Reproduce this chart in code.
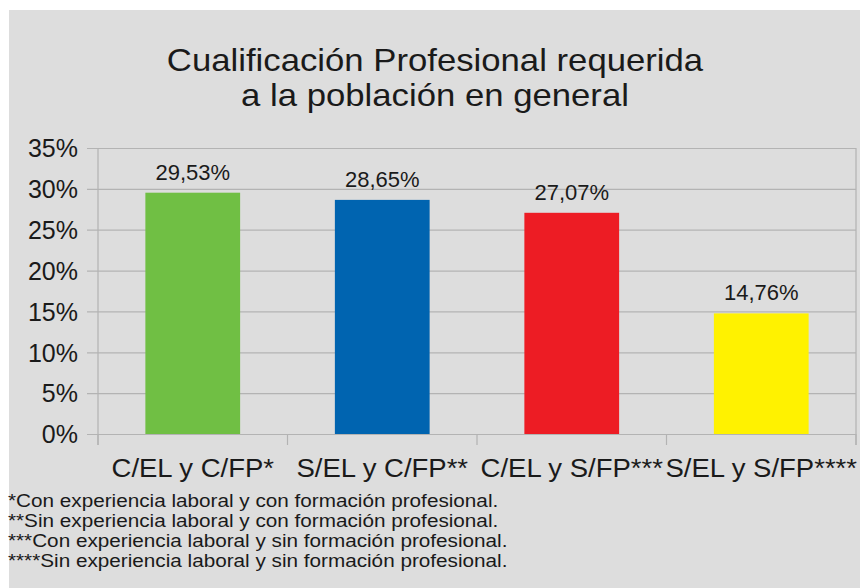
<!DOCTYPE html>
<html>
<head>
<meta charset="utf-8">
<script src="https://cdn.jsdelivr.net/npm/d3@7"></script>
<style>
  body { margin: 0; background: #fff; }
  text { font-family: "Liberation Sans", Arial, sans-serif; fill: #1a1a1a; }
</style>
</head>
<body>
<div class="canvas"></div>
<script>
var categories = ["C/EL y C/FP*", "S/EL y C/FP**", "C/EL y S/FP***", "S/EL y S/FP****"];
var values = [29.53, 28.65, 27.07, 14.76];
var valueLabels = ["29,53%", "28,65%", "27,07%", "14,76%"];
var colors = ["#70bf44", "#0064b0", "#ed1c24", "#fff200"];
var yTicks = [0, 5, 10, 15, 20, 25, 30, 35];
var titleLines = ["Cualificación Profesional requerida", "a la población en general"];
var footnotes = [
  "*Con experiencia laboral y con formación profesional.",
  "**Sin experiencia laboral y con formación profesional.",
  "***Con experiencia laboral y sin formación profesional.",
  "****Sin experiencia laboral y sin formación profesional."
];

var width = 860;
var height = 588;
var plot = { left: 98, right: 856, top: 148, bottom: 434 };
var gridColor = "#b3b3b3";

var svg = d3
  .select(".canvas")
  .append("svg")
  .attr("width", width)
  .attr("height", height);

// gray background
svg
  .append("rect")
  .attr("x", 9)
  .attr("y", 10)
  .attr("width", width - 9)
  .attr("height", height - 10)
  .attr("fill", "#dddddd");

// text in the source is a bit wider than Liberation Sans, stretch it horizontally
function stretched(x, y, sx) {
  return `translate(${x}, ${y}) scale(${sx}, 1)`;
}

/* Scales */
var xScale = d3
  .scaleBand()
  .domain(categories)
  .range([plot.left, plot.right])
  .paddingInner(0.5)
  .paddingOuter(0.25);
var yScale = d3
  .scaleLinear()
  .domain([0, 35])
  .range([plot.bottom, plot.top]);

/* Gridlines + y axis */
var yAxis = d3
  .axisLeft(yScale)
  .tickValues(yTicks)
  .tickSize(plot.right - plot.left + 11)
  .tickPadding(9)
  .tickFormat((d) => d + "%");
var gy = svg
  .append("g")
  .attr("transform", `translate(${plot.right}, 0)`)
  .call(yAxis);
gy.select(".domain").remove();
gy.selectAll("line").attr("stroke", gridColor).attr("stroke-width", 1.2);
gy.selectAll("text")
  .style("font-size", "25px")
  .attr("fill", "#1a1a1a")
  .attr("dy", "0.35em");

/* vertical axis line and right border */
svg
  .append("g")
  .selectAll("line")
  .data([plot.left, plot.right])
  .enter()
  .append("line")
  .attr("x1", (d) => d)
  .attr("x2", (d) => d)
  .attr("y1", plot.top)
  .attr("y2", plot.bottom + 11)
  .attr("stroke", gridColor)
  .attr("stroke-width", 1.2);

/* x axis ticks at band boundaries */
var bounds = d3.range(categories.length + 1).map((i) => plot.left + i * xScale.step());
svg
  .append("g")
  .selectAll("line")
  .data(bounds)
  .enter()
  .append("line")
  .attr("x1", (d) => d)
  .attr("x2", (d) => d)
  .attr("y1", plot.bottom)
  .attr("y2", plot.bottom + 11)
  .attr("stroke", gridColor)
  .attr("stroke-width", 1.2);

/* Bars */
svg
  .append("g")
  .selectAll("rect")
  .data(values)
  .enter()
  .append("rect")
  .attr("x", (d, i) => xScale(categories[i]))
  .attr("width", xScale.bandwidth())
  .attr("y", (d) => yScale(d))
  .attr("height", (d) => yScale(0) - yScale(d))
  .attr("fill", (d, i) => colors[i]);

/* Value labels */
svg
  .append("g")
  .selectAll("text")
  .data(values)
  .enter()
  .append("text")
  .attr("x", (d, i) => xScale(categories[i]) + xScale.bandwidth() / 2)
  .attr("y", (d) => yScale(d) - 13)
  .attr("text-anchor", "middle")
  .style("font-size", "22px")
  .text((d, i) => valueLabels[i]);

/* Category labels */
svg
  .append("g")
  .selectAll("text")
  .data(categories)
  .enter()
  .append("text")
  .attr("transform", (d) => stretched(xScale(d) + xScale.bandwidth() / 2, 477, 1.1))
  .attr("text-anchor", "middle")
  .style("font-size", "25px")
  .text((d) => d);

/* Title */
svg
  .append("g")
  .selectAll("text")
  .data(titleLines)
  .enter()
  .append("text")
  .attr("transform", (d, i) => stretched(435, 71 + i * 35, 1.085))
  .attr("text-anchor", "middle")
  .style("font-size", "32px")
  .text((d) => d);

/* Footnotes */
svg
  .append("g")
  .selectAll("text")
  .data(footnotes)
  .enter()
  .append("text")
  .attr("transform", (d, i) => stretched(8, 507 + i * 20, 1.12))
  .style("font-size", "18.5px")
  .text((d) => d);
</script>
</body>
</html>
